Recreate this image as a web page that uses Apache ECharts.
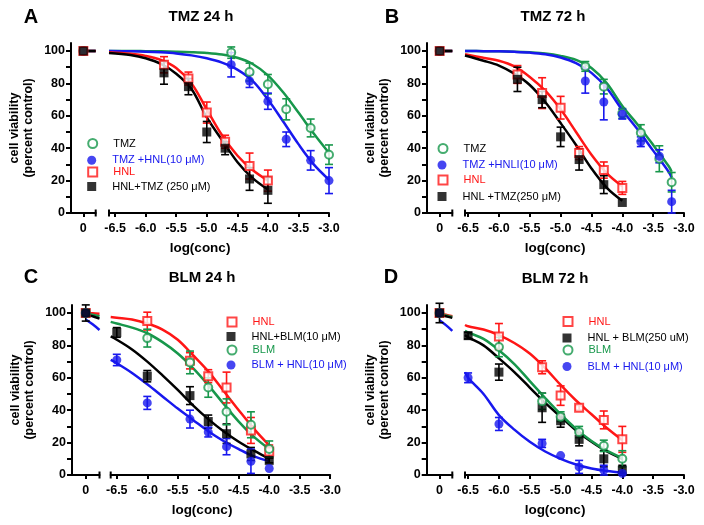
<!DOCTYPE html>
<html><head><meta charset="utf-8">
<script src="https://cdn.jsdelivr.net/npm/echarts@6/dist/echarts.min.js"></script>
<style>html,body{margin:0;padding:0;background:#fff}#c{width:704px;height:525px}</style>
</head><body><div id="c"></div>
<script>
// ---------- tick values ----------
const yTickLabels = [0, 20, 40, 60, 80, 100];
const yTickMarks = [0, 10, 20, 30, 40, 50, 60, 70, 80, 90, 100];
const xTicksLog = [-6.5, -6.0, -5.5, -5.0, -4.5, -4.0, -3.5, -3.0];
const xTicksZero = [0];
const segX = [0, 0.25, 0.5];          // curve x on the "0" segment

// ---------- Panel A : TMZ 24 h ----------
const A_hnlX = [-5.7, -5.3, -5.0, -4.7, -4.3, -4.0];
const A_tmzX = [-4.6, -4.3, -4.0, -3.7, -3.3, -3.0];
const A_TMZ = [99, 87, 79.5, 64, 52.5, 36];
const A_TMZ_err = [3.5, 5.5, 6, 6.5, 5.5, 6];
const A_TMZHNL = [91.5, 81.5, 69, 45.5, 32.5, 20];
const A_TMZHNL_err = [7.5, 4, 5, 4.5, 6, 8];
const A_HNL = [91.5, 83, 62, 44, 29, 20];
const A_HNL_err = [5, 4, 6.5, 4, 8, 6.5];
const A_HNLTMZ = [86.5, 78, 50, 40, 21, 14];
const A_HNLTMZ_err = [7, 5, 6.5, 4, 7, 8];
const A_fitX_hnl = [-6.6, -6.25, -6.0, -5.75, -5.5, -5.25, -5.0, -4.75, -4.5, -4.25, -4.0];
const A_fitX_tmz = [-6.6, -6.25, -6.0, -5.75, -5.5, -5.25, -5.0, -4.75, -4.5, -4.25, -4.0, -3.75, -3.5, -3.25, -3.0];
const A_TMZ_fit = [100, 100, 99.9, 99.8, 99.6, 99.3, 98.8, 97.8, 95.8, 92, 85, 74.5, 62, 49, 37];
const A_TMZHNL_fit = [100, 99.8, 99.6, 99.2, 98.5, 97.3, 95.5, 92.8, 88.5, 81.5, 70, 56.5, 42.5, 30, 20.5];
const A_HNL_fit = [99.3, 98.3, 97, 94.5, 89.5, 80, 64, 48, 35.5, 26.5, 20];
const A_HNLTMZ_fit = [98.8, 97.5, 95.5, 92, 86, 76.5, 59, 45, 31.5, 21.5, 14.5];
const A_seg = [100, 100, 100];
const A_zero = [100, 100, 100, 100];
const A_zero_err = [0, 0, 0, 0];

// ---------- Panel B : TMZ 72 h ----------
const B_hnlX = [-5.7, -5.3, -5.0, -4.7, -4.3, -4.0];
const B_tmzX = [-4.6, -4.3, -4.0, -3.7, -3.4, -3.2];
const B_TMZ = [90.5, 78, 61.5, 49.5, 33.5, 19];
const B_TMZ_err = [3, 4.5, 3, 5, 8, 6];
const B_TMZHNL = [81.5, 68.5, 61, 44, 35, 7];
const B_TMZHNL_err = [7.5, 11, 3, 3, 4, 7];
const B_HNL = [85.5, 74, 65, 37, 26.5, 15.5];
const B_HNL_err = [5.5, 9.5, 7, 4, 5, 4];
const B_HNLTMZ = [82.5, 70, 47, 33, 17.5, 6.5];
const B_HNLTMZ_err = [7.5, 5, 6, 6.5, 5.5, 0];
const B_fitX_hnl = [-6.55, -6.25, -6.0, -5.75, -5.5, -5.25, -5.0, -4.75, -4.5, -4.25, -4.0];
const B_fitX_tmz = [-6.55, -6.25, -6.0, -5.75, -5.5, -5.25, -5.0, -4.75, -4.5, -4.25, -4.0, -3.75, -3.5, -3.25, -3.2];
const B_TMZ_fit = [100, 99.9, 99.8, 99.6, 99.2, 98.5, 97, 94.5, 89.5, 80, 66, 54.5, 42, 29, 25.5];
const B_TMZHNL_fit = [100, 99.9, 99.8, 99.5, 99, 98, 96, 92.5, 86.5, 77, 63.5, 51.5, 38.5, 25.5, 22];
const B_HNL_fit = [98, 95.8, 94, 90.5, 84, 75.5, 64, 50, 36, 24.5, 16.5];
const B_HNLTMZ_fit = [97.2, 94, 91, 86, 79, 68.5, 55.5, 42, 27.5, 15.5, 7.5];
const B_seg = [100, 100, 100];
const B_zero = [100, 100, 100, 100];
const B_zero_err = [0, 0, 0, 0];

// ---------- Panel C : BLM 24 h ----------
const C_x7 = [-6.5, -6.0, -5.3, -5.0, -4.7, -4.3, -4.0];
const C_x6 = [-6.0, -5.3, -5.0, -4.7, -4.3, -4.0];
const C_HNL = [95, 70.5, 61, 54, 27.5, 14.5];
const C_HNL_err = [5.5, 5, 4, 9.5, 8, 4];
const C_HNLBLM = [88, 61, 49, 33, 25.5, 13, 9];
const C_HNLBLM_err = [3, 3.5, 5.5, 4, 6, 4, 1.5];
const C_BLM = [84.5, 69.5, 54, 39, 31, 16];
const C_BLM_err = [5.5, 7, 6, 8, 8, 5];
const C_BLMHNL = [71, 44.5, 34.5, 26.5, 17.5, 8.5, 4];
const C_BLMHNL_err = [3.5, 4, 5.5, 3, 5, 7.5, 0];
const C_fitX = [-6.6, -6.5, -6.25, -6.0, -5.75, -5.5, -5.25, -5.0, -4.75, -4.5, -4.25, -4.0];
const C_HNL_fit = [97.5, 97.1, 96, 93.5, 89.8, 83.5, 74, 64, 52, 40, 28.5, 18.3];
const C_HNLBLM_fit = [85.5, 83.5, 77.5, 70, 61.5, 52.5, 43, 34.5, 27, 20.5, 15, 10];
const C_BLM_fit = [94.5, 93.5, 91, 87.5, 82, 75, 66, 55.5, 44, 33, 23.5, 16];
const C_BLMHNL_fit = [71, 69, 63, 56, 48.5, 41, 34, 27, 21, 16, 11.5, 8.5];
const C_HNL_seg = [100, 99.8, 99.5];
const C_HNLBLM_seg = [99, 98, 96.5];
const C_BLM_seg = [99.5, 99, 98];
const C_BLMHNL_seg = [96, 93, 89.5];
const C_zero = [100, 100, 100, 100];
const C_zero_err = [0, 5, 0, 0];

// ---------- Panel D : BLM 72 h ----------
const D_x7 = [-6.5, -6.0, -5.3, -5.0, -4.7, -4.3, -4.0];
const D_x6 = [-6.0, -5.3, -5.0, -4.7, -4.3, -4.0];
const D_HNL = [85.5, 66.5, 49, 41.5, 34, 22];
const D_HNL_err = [8, 4, 6, 1.5, 5.5, 8];
const D_HNLBLM = [86, 63.5, 41.5, 33.5, 22, 10, 3];
const D_HNLBLM_err = [2, 5, 9, 4, 4, 5, 3];
const D_BLM = [79, 45.5, 36, 26.5, 18, 10];
const D_BLM_err = [6, 5, 3, 3.5, 3.5, 5];
const D_BLMHNL = [60, 31.5, 19.5, 12, 5, 3, 1];
const D_BLMHNL_err = [3, 4, 2.5, 0, 4, 3, 0.5];
const D_fitX = [-6.55, -6.5, -6.25, -6.0, -5.75, -5.5, -5.25, -5.0, -4.75, -4.5, -4.25, -4.0];
const D_HNL_fit = [92.6, 91.8, 89.8, 86.4, 81.5, 75, 66, 55.6, 46, 37.5, 29, 21.5];
const D_HNLBLM_fit = [86.4, 85, 80, 72, 63.5, 54, 44.5, 36, 27.5, 20.5, 14.5, 10];
const D_BLM_fit = [89, 88, 84, 77, 68.5, 58, 47.5, 37.5, 28.5, 21, 15, 10.5];
const D_BLMHNL_fit = [63.5, 60, 50, 37, 28, 20.5, 14.5, 10, 6.5, 4, 2.5, 1.5];
const D_HNL_seg = [99.5, 99, 98];
const D_HNLBLM_seg = [99, 98, 97];
const D_BLM_seg = [99, 98.5, 97.5];
const D_BLMHNL_seg = [95.5, 92.5, 89];
const D_zero = [100, 100, 100, 100];
const D_zero_err = [0, 6, 0, 0];

// ---------- styling / layout ----------
const FONT = '"Liberation Sans", Arial, Helvetica, sans-serif';
const GREEN = '#17974b', BLUE = '#1818ee', RED = '#ff1616', BLACK = '#000000';

const panels = [
  { letter: 'A', title: 'TMZ 24 h', letterPos: [31, 17], titlePos: [201, 17], xnamePos: [200, 248],
    top: 42.9, leftSeg: [71, 24.7], rightSeg: [109, 220], rmin: -6.6,
    legendSymX: 91.7, legendRows: [144.5, 161.3, 173, 187.5],
    zero: A_zero, zeroErr: A_zero_err,
    groups: [
      { name: 'TMZ', color: GREEN, text: BLACK, sym: 'emptyCircle', x: A_tmzX, y: A_TMZ, e: A_TMZ_err, fx: A_fitX_tmz, fy: A_TMZ_fit, seg: A_seg },
      { name: 'TMZ +HNL(10 \u03bcM)', color: BLUE, text: BLUE, sym: 'circle', x: A_tmzX, y: A_TMZHNL, e: A_TMZHNL_err, fx: A_fitX_tmz, fy: A_TMZHNL_fit, seg: A_seg },
      { name: 'HNL', color: RED, text: RED, sym: 'emptyRect', x: A_hnlX, y: A_HNL, e: A_HNL_err, fx: A_fitX_hnl, fy: A_HNL_fit, seg: A_seg },
      { name: 'HNL+TMZ (250 \u03bcM)', color: BLACK, text: BLACK, sym: 'rect', x: A_hnlX, y: A_HNLTMZ, e: A_HNLTMZ_err, fx: A_fitX_hnl, fy: A_HNLTMZ_fit, seg: A_seg }
    ] },
  { letter: 'B', title: 'TMZ 72 h', letterPos: [392, 17], titlePos: [553, 17], xnamePos: [555, 248],
    top: 42.9, leftSeg: [427, 25.3], rightSeg: [465, 219], rmin: -6.55,
    legendSymX: 442, legendRows: [149.5, 166, 181, 197.5],
    zero: B_zero, zeroErr: B_zero_err,
    groups: [
      { name: 'TMZ', color: GREEN, text: BLACK, sym: 'emptyCircle', x: B_tmzX, y: B_TMZ, e: B_TMZ_err, fx: B_fitX_tmz, fy: B_TMZ_fit, seg: B_seg },
      { name: 'TMZ +HNLI(10 \u03bcM)', color: BLUE, text: BLUE, sym: 'circle', x: B_tmzX, y: B_TMZHNL, e: B_TMZHNL_err, fx: B_fitX_tmz, fy: B_TMZHNL_fit, seg: B_seg },
      { name: 'HNL', color: RED, text: RED, sym: 'emptyRect', x: B_hnlX, y: B_HNL, e: B_HNL_err, fx: B_fitX_hnl, fy: B_HNL_fit, seg: B_seg },
      { name: 'HNL +TMZ(250 \u03bcM)', color: BLACK, text: BLACK, sym: 'rect', x: B_hnlX, y: B_HNLTMZ, e: B_HNLTMZ_err, fx: B_fitX_hnl, fy: B_HNLTMZ_fit, seg: B_seg }
    ] },
  { letter: 'C', title: 'BLM 24 h', letterPos: [31, 277], titlePos: [202, 278], xnamePos: [202, 510],
    top: 304.9, leftSeg: [72, 27.5], rightSeg: [110.7, 219.5], rmin: -6.6,
    legendSymX: 231, legendRows: [323, 337.5, 351, 366],
    zero: C_zero, zeroErr: C_zero_err,
    groups: [
      { name: 'HNL', color: RED, text: RED, sym: 'emptyRect', x: C_x6, y: C_HNL, e: C_HNL_err, fx: C_fitX, fy: C_HNL_fit, seg: C_HNL_seg },
      { name: 'HNL+BLM(10 \u03bcM)', color: BLACK, text: BLACK, sym: 'rect', x: C_x7, y: C_HNLBLM, e: C_HNLBLM_err, fx: C_fitX, fy: C_HNLBLM_fit, seg: C_HNLBLM_seg },
      { name: 'BLM', color: GREEN, text: GREEN, sym: 'emptyCircle', x: C_x6, y: C_BLM, e: C_BLM_err, fx: C_fitX, fy: C_BLM_fit, seg: C_BLM_seg },
      { name: 'BLM + HNL(10 \u03bcM)', color: BLUE, text: BLUE, sym: 'circle', x: C_x7, y: C_BLMHNL, e: C_BLMHNL_err, fx: C_fitX, fy: C_BLMHNL_fit, seg: C_BLMHNL_seg }
    ] },
  { letter: 'D', title: 'BLM 72 h', letterPos: [391, 277], titlePos: [555, 279], xnamePos: [555, 510],
    top: 304.9, leftSeg: [426.7, 25.6], rightSeg: [465, 219], rmin: -6.55,
    legendSymX: 567, legendRows: [322.5, 339, 351, 367.5],
    zero: D_zero, zeroErr: D_zero_err,
    groups: [
      { name: 'HNL', color: RED, text: RED, sym: 'emptyRect', x: D_x6, y: D_HNL, e: D_HNL_err, fx: D_fitX, fy: D_HNL_fit, seg: D_HNL_seg },
      { name: 'HNL + BLM(250 uM)', color: BLACK, text: BLACK, sym: 'rect', x: D_x7, y: D_HNLBLM, e: D_HNLBLM_err, fx: D_fitX, fy: D_HNLBLM_fit, seg: D_HNLBLM_seg },
      { name: 'BLM', color: GREEN, text: GREEN, sym: 'emptyCircle', x: D_x6, y: D_BLM, e: D_BLM_err, fx: D_fitX, fy: D_BLM_fit, seg: D_BLM_seg },
      { name: 'BLM + HNL(10 \u03bcM)', color: BLUE, text: BLUE, sym: 'circle', x: D_x7, y: D_BLMHNL, e: D_BLMHNL_err, fx: D_fitX, fy: D_BLMHNL_fit, seg: D_BLMHNL_seg }
    ] }
];

const PLOT_H = 170.1;
const axisLineStyle = { color: '#000', width: 2 };
const tickStyle = { color: '#000', width: 2 };
const labelStyle = { color: '#000', fontSize: 12.5, fontWeight: 'bold', fontFamily: FONT };

function errRender(params, api) {
  const x = api.value(0), lo = api.value(1), hi = api.value(2);
  const a = api.coord([x, hi]), b = api.coord([x, lo]);
  const st = { stroke: api.visual('color'), lineWidth: 1.6 };
  const hw = 4;
  return { type: 'group', children: [
    { type: 'line', shape: { x1: a[0], y1: a[1], x2: b[0], y2: b[1] }, style: st },
    { type: 'line', shape: { x1: a[0] - hw, y1: a[1], x2: a[0] + hw, y2: a[1] }, style: st },
    { type: 'line', shape: { x1: b[0] - hw, y1: b[1], x2: b[0] + hw, y2: b[1] }, style: st }
  ] };
}

const grid = [], xAxis = [], yAxis = [], series = [], legend = [], graphic = [];

panels.forEach((p, pi) => {
  const L = pi * 2, R = pi * 2 + 1;
  grid.push({ left: p.leftSeg[0], top: p.top, width: p.leftSeg[1], height: PLOT_H, containLabel: false, outerBoundsMode: 'none' });
  grid.push({ left: p.rightSeg[0], top: p.top, width: p.rightSeg[1], height: PLOT_H, containLabel: false, outerBoundsMode: 'none' });

  xAxis.push({ gridIndex: L, type: 'value', min: -0.5, max: 0.5,
    axisLine: { show: true, onZero: false, symbol: ['none', 'rect'], symbolSize: [7, 2], lineStyle: axisLineStyle },
    axisTick: { show: true, customValues: xTicksZero, length: 4, lineStyle: tickStyle },
    axisLabel: Object.assign({ customValues: xTicksZero, margin: 9, formatter: v => String(v) }, labelStyle),
    splitLine: { show: false } });
  xAxis.push({ gridIndex: R, type: 'value', min: p.rmin, max: -3.0,
    axisLine: { show: true, onZero: false, symbol: ['rect', 'none'], symbolSize: [7, 2], lineStyle: axisLineStyle },
    axisTick: { show: true, customValues: xTicksLog, length: 4, lineStyle: tickStyle },
    axisLabel: Object.assign({ customValues: xTicksLog, margin: 9, formatter: v => v.toFixed(1) }, labelStyle),
    splitLine: { show: false } });

  yAxis.push({ gridIndex: L, type: 'value', min: 0, max: 105,
    name: 'cell viability\n(percent control)', nameLocation: 'middle', nameGap: 35, nameRotate: 90,
    nameTextStyle: { color: '#000', fontSize: 12.5, fontWeight: 'bold', fontFamily: FONT, lineHeight: 14 },
    axisLine: { show: true, onZero: false, lineStyle: axisLineStyle },
    axisTick: { show: true, customValues: yTickMarks, length: 5, lineStyle: tickStyle },
    axisLabel: Object.assign({ customValues: yTickLabels, margin: 6 }, labelStyle),
    splitLine: { show: false } });
  yAxis.push({ gridIndex: R, type: 'value', min: 0, max: 105, show: false, splitLine: { show: false } });

  // curves
  p.groups.forEach((g, gi) => {
    series.push({ type: 'line', name: p.letter + '_fit_' + gi, xAxisIndex: R, yAxisIndex: R,
      data: g.fx.map((x, i) => [x, g.fy[i]]), smooth: 0.35, showSymbol: false, silent: true,
      lineStyle: { color: g.color, width: 2.5 }, itemStyle: { color: g.color }, z: 2 });
    series.push({ type: 'line', name: p.letter + '_seg_' + gi, xAxisIndex: L, yAxisIndex: L,
      data: segX.map((x, i) => [x, g.seg[i]]), smooth: 0.35, showSymbol: false, silent: true,
      lineStyle: { color: g.color, width: 2.5 }, itemStyle: { color: g.color }, z: 2 + (g.color === BLACK ? 0.5 : 0) });
  });
  // error bars
  p.groups.forEach((g, gi) => {
    const errData = g.x.map((x, i) => [x, g.y[i] - g.e[i], g.y[i] + g.e[i]]).filter((d, i) => g.e[i] > 0);
    series.push({ type: 'custom', name: p.letter + '_err_' + gi, xAxisIndex: R, yAxisIndex: R,
      renderItem: errRender, data: errData, encode: { x: 0, y: [1, 2] }, itemStyle: { color: g.color }, silent: true, z: 3 });
    if (p.zeroErr[gi] > 0) {
      series.push({ type: 'custom', name: p.letter + '_err0_' + gi, xAxisIndex: L, yAxisIndex: L,
        renderItem: errRender, data: [[0, p.zero[gi] - p.zeroErr[gi], p.zero[gi] + p.zeroErr[gi]]],
        encode: { x: 0, y: [1, 2] }, itemStyle: { color: g.color }, silent: true, z: 3 });
    }
  });
  // points
  p.groups.forEach((g, gi) => {
    const empty = g.sym.indexOf('empty') === 0;
    const st = empty ? { color: g.color, borderColor: g.color, borderWidth: 2 } : { color: g.color, borderWidth: 0 };
    series.push({ type: 'scatter', name: g.name, xAxisIndex: R, yAxisIndex: R,
      data: g.x.map((x, i) => [x, g.y[i]]), symbol: g.sym, symbolSize: empty ? 8 : 9, itemStyle: st, z: 4 });
    series.push({ type: 'scatter', name: p.letter + '_zero_' + gi, xAxisIndex: L, yAxisIndex: L,
      data: [[0, p.zero[gi]]], symbol: g.sym, symbolSize: empty ? 8 : 9, itemStyle: st,
      z: 4 + (g.color === BLACK ? 1 : 0) });
  });
  // legends (one per row)
  p.groups.forEach((g, gi) => {
    legend.push({ left: p.legendSymX - 4.5, top: p.legendRows[gi] - 6.5, padding: 0, orient: 'vertical',
      itemWidth: 9, itemHeight: 9, selectedMode: false,
      textStyle: { fontSize: 11, fontFamily: FONT, padding: [0, 0, 0, 11] },
      data: [{ name: g.name, textStyle: { color: g.text } }] });
  });
  // texts
  graphic.push({ type: 'text', x: p.letterPos[0], y: p.letterPos[1], silent: true,
    style: { text: p.letter, fill: '#000', fontSize: 20, fontWeight: 'bold', fontFamily: FONT, align: 'center', verticalAlign: 'middle' } });
  graphic.push({ type: 'text', x: p.titlePos[0], y: p.titlePos[1], silent: true,
    style: { text: p.title, fill: '#000', fontSize: 15, fontWeight: 'bold', fontFamily: FONT, align: 'center', verticalAlign: 'middle' } });
  graphic.push({ type: 'text', x: p.xnamePos[0], y: p.xnamePos[1], silent: true,
    style: { text: 'log(conc)', fill: '#000', fontSize: 13.5, fontWeight: 'bold', fontFamily: FONT, align: 'center', verticalAlign: 'middle' } });
});

const chart = echarts.init(document.getElementById('c'), null, { renderer: 'canvas' });
chart.setOption({
  animation: false,
  backgroundColor: '#ffffff',
  textStyle: { fontFamily: FONT },
  grid, xAxis, yAxis, series, legend, graphic
});
</script></body></html>
